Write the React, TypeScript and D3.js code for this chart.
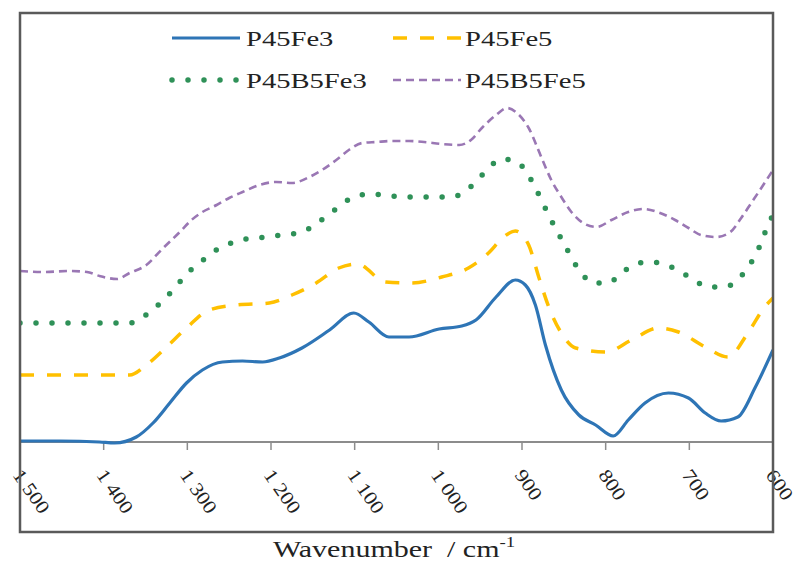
import React from "react";
import * as d3 from "d3";

const tickValues = [1500, 1400, 1300, 1200, 1100, 1000, 900, 800, 700, 600];
const tickLabels = ["1 500", "1 400", "1 300", "1 200", "1 100", "1 000", "900", "800", "700", "600"];

const p45fe3Wn = [1500,1452,1405,1387,1361,1341,1321,1301,1282,1258,1234,1210,1190,1163,1130,1101,1083,1059,1035,999,972,955,931,908,896,884,872,853,832,812,791,773,753,725,701,681,662,642,621,600];
const p45fe3Abs = [1,1,0,-1,5,19,39,59,72,80,81,80,84,94,112,129,120,105,105,113,116,122,145,162,157,137,97,52,27,17,6,22,39,49,44,29,21,25,55,92];

const p45fe5Wn = [1500,1428,1369,1349,1325,1301,1274,1241,1202,1175,1146,1119,1097,1063,1032,996,964,940,922,908,892,880,868,853,836,800,769,737,713,681,654,630,610,600];
const p45fe5Abs = [67,67,67,77,95,114,132,137,139,147,159,174,178,160,159,165,174,189,205,211,197,165,135,109,94,90,102,114,110,95,85,109,135,144];

const p45b5fe3Wn = [1500,1369,1355,1339,1325,1312,1300,1285,1271,1253,1238,1217,1198,1163,1145,1130,1115,1098,1079,1059,1021,984,966,953,940,924,906,894,884,867,849,830,815,797,781,764,747,728,710,693,677,660,643,631,620,613,606,600];
const p45b5fe3Abs = [119,119,124,134,145,157,169,179,189,197,202,204,206,210,219,228,238,246,248,246,245,245,252,262,274,283,280,269,254,225,197,170,159,159,169,178,180,177,170,161,155,155,161,174,188,202,217,227];

const p45b5fe5Wn = [1500,1473,1440,1420,1405,1384,1369,1349,1330,1309,1295,1282,1265,1250,1234,1214,1194,1175,1154,1139,1122,1107,1091,1074,1055,1035,1017,996,975,961,948,931,918,906,892,877,865,853,841,827,811,793,773,755,735,717,701,686,668,651,638,626,614,600];
const p45b5fe5Abs = [171,170,171,170,166,163,169,177,193,210,222,230,237,244,250,257,260,259,265,272,282,292,299,300,301,301,300,298,297,302,314,327,334,329,314,285,262,245,230,219,215,222,230,233,229,222,214,207,205,210,224,239,254,272];

const seriesNames = ["P45Fe3", "P45Fe5", "P45B5Fe3", "P45B5Fe5"];

const W = 802, H = 569;
const L = 20, R = 773, T = 13, B = 532, AXY = 442;
const FONT = "Liberation Serif, Times New Roman, serif";

const styles = [
  { color: "#2e75b6", width: 3.2, dash: "", cap: "butt" },
  { color: "#ffc000", width: 3.5, dash: "14 13", cap: "butt" },
  { color: "#2f9158", width: 5.5, dash: "0 16", cap: "round" },
  { color: "#9a77b4", width: 2.6, dash: "8 5", cap: "butt" },
];

export default function App() {
  const x = d3.scaleLinear().domain([1500, 600]).range([L, R]);
  const y = d3.scaleLinear().domain([0, AXY - T]).range([AXY, T]);
  const series = [
    { wn: p45fe3Wn, v: p45fe3Abs },
    { wn: p45fe5Wn, v: p45fe5Abs },
    { wn: p45b5fe3Wn, v: p45b5fe3Abs },
    { wn: p45b5fe5Wn, v: p45b5fe5Abs },
  ];
  const line = d3
    .line<[number, number]>()
    .x((d) => x(d[0]))
    .y((d) => y(d[1]))
    .curve(d3.curveMonotoneX);

  const legendPos = [
    { lx: 172, ly: 38, tx: 246, ty: 46 },
    { lx: 393, ly: 38, tx: 465, ty: 46 },
    { lx: 172, ly: 80, tx: 246, ty: 88 },
    { lx: 393, ly: 80, tx: 465, ty: 88 },
  ];

  return (
    <svg width={W} height={H} style={{ position: "absolute", left: 0, top: 0, background: "#fff", fontFamily: FONT }}>
      <rect x={0} y={0} width={W} height={H} fill="#fff" />
      <defs>
        <clipPath id="plot">
          <rect x={L} y={T} width={R - L} height={B - T} />
        </clipPath>
      </defs>
      <line x1={L} x2={R} y1={AXY} y2={AXY} stroke="#8c8c8c" strokeWidth={2} />
      {tickValues.map((t, i) => (
        <g key={t}>
          <line x1={x(t)} x2={x(t)} y1={AXY} y2={AXY + 8} stroke="#8c8c8c" strokeWidth={1.5} />
          <text
            transform={`translate(${x(t) - 8},${AXY + 33}) rotate(55) scale(1.15,1)`}
            fontSize={19}
            fill="#222"
            textAnchor="start"
            style={{ fontFamily: FONT }}
          >
            {tickLabels[i]}
          </text>
        </g>
      ))}
      <g clipPath="url(#plot)">
        {series.map((s, i) => (
          <path
            key={i}
            d={line(s.wn.map((w, j) => [w, s.v[j]] as [number, number])) || ""}
            fill="none"
            stroke={styles[i].color}
            strokeWidth={styles[i].width}
            strokeDasharray={styles[i].dash}
            strokeLinecap={styles[i].cap as any}
            strokeLinejoin="round"
          />
        ))}
      </g>
      <rect x={L} y={T} width={R - L} height={B - T} fill="none" stroke="#5a5a5a" strokeWidth={2.5} />
      {seriesNames.map((n, i) => {
        const p = legendPos[i];
        return (
          <g key={n}>
            <line
              x1={p.lx}
              x2={p.lx + 68}
              y1={p.ly}
              y2={p.ly}
              stroke={styles[i].color}
              strokeWidth={styles[i].width}
              strokeDasharray={styles[i].dash}
              strokeLinecap={styles[i].cap as any}
            />
            <text
              transform={`translate(${p.tx},${p.ty}) scale(1.3,1)`}
              fontSize={22}
              fill="#222"
              style={{ fontFamily: FONT }}
            >
              {n}
            </text>
          </g>
        );
      })}
      <text
        transform="translate(394,557) scale(1.25,1)"
        fontSize={24}
        fill="#222"
        textAnchor="middle"
        style={{ fontFamily: FONT }}
      >
        Wavenumber {"\u00a0"}/ cm
        <tspan dy={-10} fontSize={15}>-1</tspan>
      </text>
    </svg>
  );
}
